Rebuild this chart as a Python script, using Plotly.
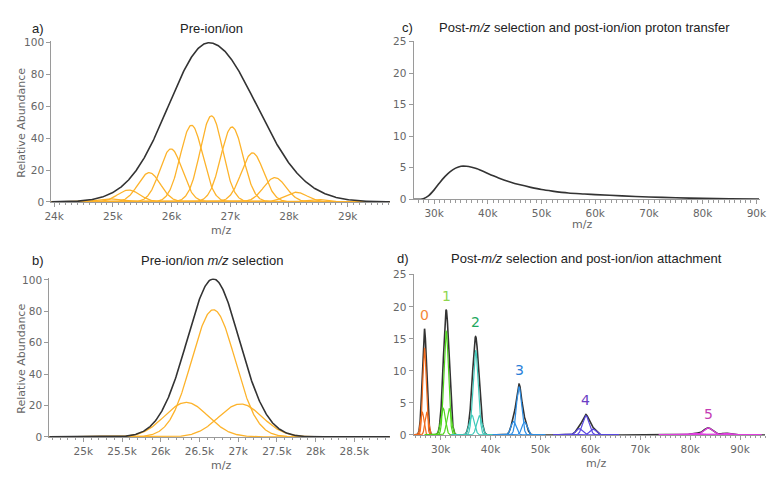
import numpy as np
import plotly.graph_objects as go

W, H = 773, 478

# ---------------- data (m/z in thousands) ----------------
# Panel a: individual charge-state peaks + overall envelope
a_centers = [24.91, 25.27, 25.62, 25.99, 26.34, 26.68, 27.03, 27.38, 27.76, 28.12, 28.48]
a_heights = [2.0, 7.5, 18.4, 33.3, 48.2, 54.1, 47.1, 30.8, 15.3, 6.1, 1.5]
a_sigma = 0.19
a_env_center = 26.64
a_env_height = 100.0
a_env_sigma_left = 0.69
a_env_sigma_right = 0.81

# Panel b: selected peaks
b_centers = [26.33, 26.68, 27.03]
b_heights = [22.0, 81.0, 21.0]
b_sigma = 0.28

# Panel c: proton-transfer product distribution (read points)
c_mz = [26.2, 27.0, 27.5, 28.0, 29.0, 30.0, 31.0, 32.0, 33.0, 34.0, 35.0, 36.0, 37.0, 38.0,
        40.0, 42.0, 44.0, 46.0, 48.0, 50.0, 52.0, 55.0, 58.0, 60.0, 65.0, 70.0, 75.0, 80.0,
        85.0, 90.5]
c_abund = [0.0, 0.0, 0.0, 0.1, 0.6, 1.5, 2.6, 3.6, 4.4, 4.95, 5.25, 5.25, 5.1, 4.85,
           4.1, 3.4, 2.8, 2.3, 1.9, 1.55, 1.3, 1.0, 0.85, 0.75, 0.55, 0.36, 0.25, 0.15,
           0.08, 0.03]

# Panel d: attachment product groups
d_labels = ["0", "1", "2", "3", "4", "5"]
d_centers = [26.75, 31.1, 37.0, 45.7, 59.1, 83.6]
d_main_heights = [13.6, 16.2, 13.2, 7.5, 3.0, 1.1]
d_left_heights = [3.6, 4.2, 3.1, 2.1, 1.0, 0.28]
d_right_heights = [3.5, 4.1, 3.0, 2.0, 0.9, 0.28]
d_left_offsets = [0.45, 0.62, 0.75, 1.1, 1.35, 2.7]
d_right_offsets = [0.45, 0.62, 0.75, 1.1, 1.45, 3.5]
d_sigmas = [0.34, 0.46, 0.52, 0.52, 0.65, 0.9]
d_line_colors = ["#f26b1d", "#4fd61c", "#3fcabb", "#2e8fe6", "#5a48e2", "#e03ee0"]
d_label_colors = ["#f5873a", "#8ed64f", "#1ea860", "#2a7ed8", "#6b3ec4", "#c43cb4"]

ORANGE = "#fdb32b"
BLACK = "#333333"
AXIS = "#9a9a9a"
TICKTXT = "#666666"


def gauss(x, c, h, s):
    return h * np.exp(-((x - c) ** 2) / (2 * s * s))


def px_x(p):
    return p / W


def px_y(p):
    return 1 - p / H


fig = go.Figure()

# ---------- axis ranges (in m/z) ----------
a_rng = [23.95e3, 29.72e3]
b_rng = [24.56e3, 28.96e3]
c_rng = [26.16e3, 90.7e3]
d_rng = [24.55e3, 95.0e3]

# ---------- Panel a ----------
xa = np.linspace(a_rng[0] / 1e3, a_rng[1] / 1e3, 700)
for c, h in zip(a_centers, a_heights):
    fig.add_trace(go.Scatter(x=xa * 1e3, y=gauss(xa, c, h, a_sigma), mode="lines",
                             line=dict(color=ORANGE, width=1.3), xaxis="x", yaxis="y",
                             hoverinfo="skip", showlegend=False))
env_s = np.where(xa < a_env_center, a_env_sigma_left, a_env_sigma_right)
env = a_env_height * np.exp(-((xa - a_env_center) ** 2) / (2 * env_s ** 2))
fig.add_trace(go.Scatter(x=xa * 1e3, y=env, mode="lines", line=dict(color=BLACK, width=1.6),
                         xaxis="x", yaxis="y", hoverinfo="skip", showlegend=False))

# ---------- Panel b ----------
xb = np.linspace(b_rng[0] / 1e3, b_rng[1] / 1e3, 700)
b_sum = np.zeros_like(xb)
for c, h in zip(b_centers, b_heights):
    yb = gauss(xb, c, h, b_sigma)
    b_sum += yb
    fig.add_trace(go.Scatter(x=xb * 1e3, y=yb, mode="lines", line=dict(color=ORANGE, width=1.3),
                             xaxis="x2", yaxis="y2", hoverinfo="skip", showlegend=False))
fig.add_trace(go.Scatter(x=xb * 1e3, y=b_sum, mode="lines", line=dict(color=BLACK, width=1.6),
                         xaxis="x2", yaxis="y2", hoverinfo="skip", showlegend=False))

# ---------- Panel c ----------
fig.add_trace(go.Scatter(x=[m * 1e3 for m in c_mz], y=c_abund, mode="lines",
                         line=dict(color=BLACK, width=1.6, shape="spline", smoothing=0.8),
                         xaxis="x3", yaxis="y3", hoverinfo="skip", showlegend=False))

# ---------- Panel d ----------
xd = np.linspace(d_rng[0] / 1e3, d_rng[1] / 1e3, 3000)
d_total = np.zeros_like(xd)
group_curves = []
for i in range(len(d_centers)):
    c = d_centers[i]
    s = d_sigmas[i]
    comps = [gauss(xd, c - d_left_offsets[i], d_left_heights[i], s),
             gauss(xd, c, d_main_heights[i], s),
             gauss(xd, c + d_right_offsets[i], d_right_heights[i], s)]
    for comp in comps:
        d_total += comp
    group_curves.append(comps)

fig.add_trace(go.Scatter(x=xd * 1e3, y=d_total, mode="lines", line=dict(color=BLACK, width=1.6),
                         xaxis="x4", yaxis="y4", hoverinfo="skip", showlegend=False))
for i, comps in enumerate(group_curves):
    c = d_centers[i]
    s = d_sigmas[i]
    lo = c - d_left_offsets[i] - 8 * s
    hi = c + d_right_offsets[i] + 8 * s
    m = (xd >= lo) & (xd <= hi)
    for comp in comps:
        fig.add_trace(go.Scatter(x=xd[m] * 1e3, y=comp[m], mode="lines",
                                 line=dict(color=d_line_colors[i], width=1.2),
                                 xaxis="x4", yaxis="y4", hoverinfo="skip", showlegend=False))
    peak = float(np.max(d_total[(xd > c - 1.5 * s) & (xd < c + 1.5 * s)]))
    fig.add_annotation(x=c * 1e3, y=peak + 2.2, xref="x4", yref="y4", text=d_labels[i],
                       showarrow=False, font=dict(family="DejaVu Sans", size=14,
                                                  color=d_label_colors[i]))


# ---------- axes ----------
def xaxis_cfg(domain, rng, tick0, dtick, minor_dtick, anchor):
    return dict(domain=domain, range=rng, anchor=anchor, showline=True, linecolor=AXIS,
                linewidth=1, ticks="outside", ticklen=4, tickcolor=AXIS, tickwidth=1,
                tickmode="linear", tick0=tick0, dtick=dtick, tickformat="~s",
                ticklabeloverflow="allow",
                tickfont=dict(family="DejaVu Sans", size=10.5, color=TICKTXT),
                showgrid=False, zeroline=False, fixedrange=True,
                minor=dict(ticks="outside", ticklen=2.5, dtick=minor_dtick, tick0=tick0,
                           tickcolor=AXIS, tickwidth=1, showgrid=False))


def yaxis_cfg(domain, rng, dtick, anchor):
    return dict(domain=domain, range=rng, anchor=anchor, showline=True, linecolor=AXIS,
                linewidth=1, ticks="outside", ticklen=4, tickcolor=AXIS, tickwidth=1,
                tickmode="linear", tick0=0, dtick=dtick, ticklabeloverflow="allow",
                tickfont=dict(family="DejaVu Sans", size=10.5, color=TICKTXT),
                showgrid=False, zeroline=False, fixedrange=True)


# pixel geometry of the four plot areas
a_dom_x = [px_x(45), px_x(390)]
a_dom_y = [px_y(201), px_y(201 - 163.3 * 1.01)]
b_dom_x = [px_x(43), px_x(390)]
b_dom_y = [px_y(442), px_y(442 - 161.0 * 1.01)]
c_dom_x = [px_x(414), px_x(767)]
c_dom_y = [px_y(198.3), px_y(198.3 - 161.6 * 1.004)]
d_dom_x = [px_x(414), px_x(772)]
d_dom_y = [px_y(440), px_y(440 - 164.3 * 1.004)]

fig.update_layout(
    width=W, height=H, autosize=False,
    margin=dict(l=0, r=0, t=0, b=0),
    paper_bgcolor="white", plot_bgcolor="white",
    showlegend=False,
    xaxis=xaxis_cfg(a_dom_x, a_rng, 24000, 1000, 100, "y"),
    yaxis=yaxis_cfg(a_dom_y, [0, 101], 20, "x"),
    xaxis2=xaxis_cfg(b_dom_x, b_rng, 25000, 500, 100, "y2"),
    yaxis2=yaxis_cfg(b_dom_y, [0, 101], 20, "x2"),
    xaxis3=xaxis_cfg(c_dom_x, c_rng, 30000, 10000, 1000, "y3"),
    yaxis3=yaxis_cfg(c_dom_y, [0, 25.1], 5, "x3"),
    xaxis4=xaxis_cfg(d_dom_x, d_rng, 30000, 10000, 1000, "y4"),
    yaxis4=yaxis_cfg(d_dom_y, [0, 25.1], 5, "x4"),
)

# ---------- text annotations ----------
TITLE_FONT = dict(family="Liberation Sans, Arial", size=13, color="#222222")
texts = [
    ("a)", 32, 23, TITLE_FONT, 0),
    ("Pre-ion/ion", 208, 23, TITLE_FONT, 0),
    ("b)", 32, 261, TITLE_FONT, 0),
    ("Pre-ion/ion <i>m/z</i> selection", 209, 261, TITLE_FONT, 0),
    ("c)", 408, 22, TITLE_FONT, 0),
    ("Post-<i>m/z</i> selection and post-ion/ion proton transfer", 588, 22, TITLE_FONT, 0),
    ("d)", 403, 259, TITLE_FONT, 0),
    ("Post-<i>m/z</i> selection and post-ion/ion attachment", 590, 259, TITLE_FONT, 0),
]
AX_FONT = dict(family="DejaVu Sans", size=11, color=TICKTXT)
texts += [
    ("m/z", 218, 230, AX_FONT, 0),
    ("m/z", 218, 471, AX_FONT, 0),
    ("m/z", 586, 224, AX_FONT, 0),
    ("m/z", 600, 469, AX_FONT, 0),
    ("Relative Abundance", 15, 120, AX_FONT, -90),
    ("Relative Abundance", 15, 362, AX_FONT, -90),
]
for t, x, y, f, ang in texts:
    fig.add_annotation(x=px_x(x), y=px_y(y), xref="paper", yref="paper", text=t,
                       showarrow=False, font=f, textangle=ang,
                       xanchor="center", yanchor="middle")

fig.write_html("out.html", config={"displayModeBar": False},
               post_script="document.body.style.margin='0px';document.body.style.overflow='hidden';")
